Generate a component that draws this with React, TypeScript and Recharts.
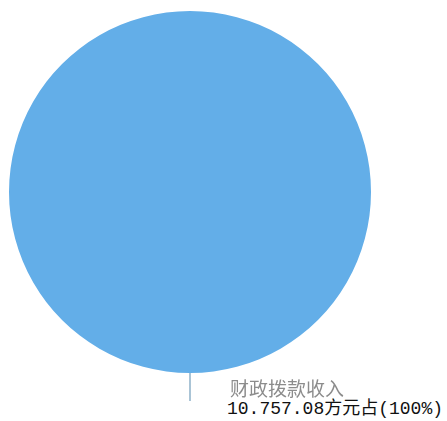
import React from "react";
import { PieChart, Pie, Cell } from "recharts";

// 收入构成（单位：万元）
const categories = ["财政拨款收入"];
const values = [10757.08];
const valueLabels = ["10.757.08方元占(100%)"];
const colors = ["#63aee8"];

const data = categories.map((name, i) => ({
  name,
  value: values[i],
  text: valueLabels[i],
}));

const renderLabel = (props: any) => {
  const { cx, cy, outerRadius, index } = props;
  const x = cx;
  const y0 = cy + outerRadius;
  return (
    <g>
      <line x1={x} y1={y0} x2={x} y2={y0 + 28} stroke="#aac4d6" strokeWidth={2} />
      <text
        x={x + 40}
        y={y0 + 23}
        fill="#8c8c8c"
        fontSize={19}
        fontFamily="'Noto Sans CJK SC', sans-serif"
        style={{ filter: "blur(0.4px)" }}
      >
        {data[index].name}
      </text>
      <text
        x={x + 37}
        y={y0 + 41}
        fill="#111"
        fontSize={18}
        fontFamily="'Liberation Mono', 'Noto Sans CJK SC', monospace"
      >
        {data[index].text}
      </text>
    </g>
  );
};

export default function App() {
  return (
    <div style={{ position: "absolute", left: 0, top: 0, background: "#fff" }}>
      <PieChart width={447} height={421} margin={{ top: 0, right: 0, bottom: 0, left: 0 }}>
        <Pie
          data={data}
          dataKey="value"
          nameKey="name"
          cx={190}
          cy={192}
          outerRadius={181}
          startAngle={90}
          endAngle={450}
          stroke="none"
          label={renderLabel}
          labelLine={false}
          isAnimationActive={false}
        >
          {data.map((d, i) => (
            <Cell key={d.name} fill={colors[i % colors.length]} />
          ))}
        </Pie>
      </PieChart>
    </div>
  );
}
